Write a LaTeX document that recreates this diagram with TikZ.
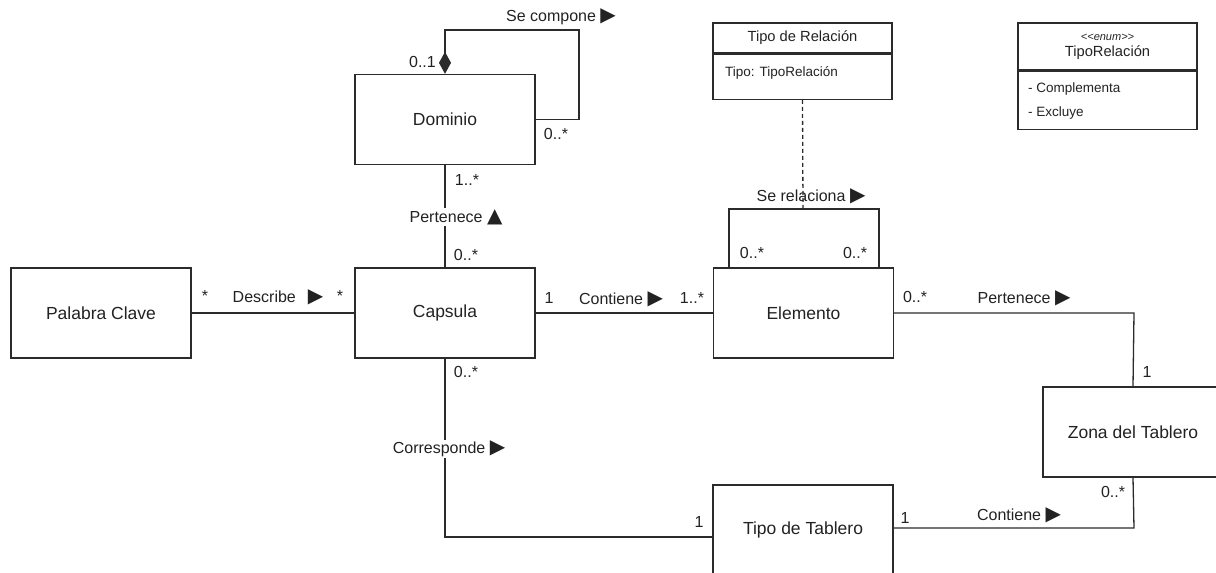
\documentclass[tikz,border=0pt]{standalone}
\usepackage{fontspec}
\setmainfont{Liberation Sans}
\newfontfamily\symfont{DejaVu Sans}
\usetikzlibrary{arrows.meta}

\definecolor{linecol}{HTML}{2B2B2B}
\definecolor{txt}{HTML}{222222}

% direction markers used inside association labels
\newcommand{\dirR}{{\symfont\fontsize{20}{16}\selectfont ▶}}
\newcommand{\dirU}{{\symfont\fontsize{20}{16}\selectfont ▲}}

\begin{document}
\begin{tikzpicture}[x=1pt,y=-1pt,
  cls/.style={draw=linecol, line width=1.3pt, minimum width=180pt, minimum height=90pt,
              inner sep=0pt, font=\fontsize{17.5}{20}\selectfont, text=txt},
  part/.style={draw=linecol, line width=1.3pt, minimum width=179pt, inner sep=0pt, text=txt},
  lbl/.style={font=\fontsize{16}{18}\selectfont, inner sep=1pt, text=txt},
  small/.style={font=\fontsize{13.5}{16}\selectfont, inner sep=0pt, text=txt},
  assoc/.style={draw=linecol, line width=1.3pt},
]
\useasboundingbox (0,0) rectangle (1216,573);

% ---------- classes ----------
\node[cls] (dominio)  at (445,119.5) {Dominio};
\node[cls] (capsula)  at (445,313)   {Capsula};
\node[cls] (palabra)  at (101,313)   {Palabra Clave};
\node[cls] (elemento) at (803.5,313) {Elemento};
\node[cls] (zona)     at (1133,432)  {Zona del Tablero};
\node[cls] (tablero)  at (803,530)   {Tipo de Tablero};

% association class "Tipo de Relación"
\node[part, minimum height=30pt, font=\fontsize{14.7}{17}\selectfont] (trh) at (802.5,38) {Tipo de Relación};
\node[part, minimum height=45pt, anchor=north] (trb) at (trh.south) {};
\node[small, anchor=west] (trattr) at (725,73) {Tipo: TipoRelación};

% enumeration TipoRelación
\node[part, minimum height=47pt, align=center, font=\fontsize{14.7}{17}\selectfont] (enh) at (1107.5,46.5)
  {{\fontsize{11}{12}\selectfont\itshape <{}<enum>{}>}\\[-1pt]TipoRelación};
\node[part, minimum height=58pt, anchor=north] (enb) at (enh.south) {};
\node[small, anchor=west] (en1) at (1028,89)  {- Complementa};
\node[small, anchor=west] (en2) at (1028,113) {- Excluye};

% ---------- associations ----------
% Dominio composed of Dominio
\coordinate (dl1) at (579,119.5);
\coordinate (dl2) at (579,30);
\coordinate (dl3) at (445,30);
\draw[assoc, -{Diamond[length=22pt,width=12pt]}] (dominio.east) -- (dl1) -- (dl2) -- (dl3) -- (dominio.north);
\node[lbl] (secomp) at (561,17) {Se compone \dirR};
\node[lbl, anchor=east] (m01) at (437,62) {0..1};
\node[lbl] (m0s1) at (556,134) {0..*};

% Dominio -- Capsula
\draw[assoc] (dominio.south) -- (capsula.north);
\node[lbl, fill=white] (pert1) at (456,217) {Pertenece \dirU};
\node[lbl] (m1s1) at (467,180) {1..*};
\node[lbl] (m0s2) at (466,255) {0..*};

% Palabra Clave -- Capsula
\draw[assoc] (palabra.east) -- (capsula.west);
\node[lbl] (ms1) at (205,296) {*};
\node[lbl] (desc) at (278,297) {Describe\hspace{12pt}\dirR};
\node[lbl] (ms2) at (340,296) {*};

% Capsula -- Elemento
\draw[assoc] (capsula.east) -- (elemento.west);
\node[lbl] (m1a) at (549,298) {1};
\node[lbl] (cont1) at (621,299) {Contiene \dirR};
\node[lbl] (m1s2) at (692,298) {1..*};

% Elemento related to Elemento
\coordinate (el1) at (729,268);
\coordinate (el2) at (729,209);
\coordinate (el3) at (879,209);
\coordinate (el4) at (879,268);
\coordinate (elmid) at (803,209);
\draw[assoc] (el1) -- (el2) -- (el3) -- (el4);
\draw[assoc, dash pattern=on 4pt off 3pt] (trb.south) -- (elmid);
\node[lbl] (serel) at (811,196) {Se relaciona \dirR};
\node[lbl] (m0s3) at (752,253) {0..*};
\node[lbl] (m0s4) at (855,253) {0..*};

% Elemento -- Zona del Tablero
\coordinate (ez) at (1134,313);
\draw[assoc] (elemento.east) -- (ez) -- (zona.north);
\node[lbl] (m0s5) at (915,297) {0..*};
\node[lbl] (pert2) at (1024,298) {Pertenece \dirR};
\node[lbl] (m1b) at (1147,372) {1};

% Tipo de Tablero -- Zona del Tablero
\coordinate (tz) at (1134,528);
\draw[assoc] ([yshift=2pt]tablero.east) -- (tz) -- (zona.south);
\node[lbl] (m1c) at (905,518) {1};
\node[lbl] (cont2) at (1019,515) {Contiene \dirR};
\node[lbl] (m0s6) at (1113,492) {0..*};

% Capsula -- Tipo de Tablero
\coordinate (ct) at (445,537);
\draw[assoc] (capsula.south) -- (ct) -- ([yshift=-7pt]tablero.west);
\node[lbl] (m0s7) at (466,372) {0..*};
\node[lbl, fill=white] (corr) at (449,449) {Corresponde \dirR};
\node[lbl] (m1d) at (699,522) {1};
\end{tikzpicture}
\end{document}
